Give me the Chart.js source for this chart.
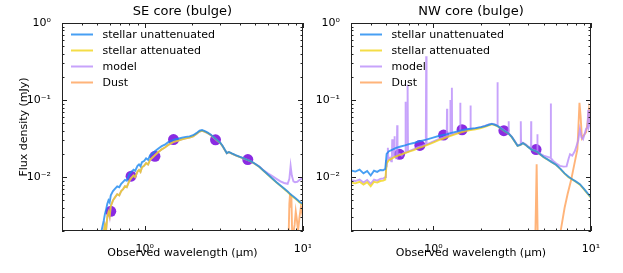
<!DOCTYPE html>
<html>
<head>
<meta charset="utf-8">
<script src="https://cdn.jsdelivr.net/npm/chart.js@4"></script>
<style>
  body { margin: 0; background: #fff; }
  .panel { position: absolute; top: 0; }
</style>
</head>
<body>
<div class="panel" style="left:0"><canvas id="se" width="311" height="273"></canvas></div>
<div class="panel" style="left:311px"><canvas id="nw" width="312" height="273"></canvas></div>
<script>
// --- data (wavelength in um, flux density in mJy) ---
const obsWl = [0.61, 0.82, 1.16, 1.52, 2.80, 4.48];
const seObs = [0.0036, 0.0103, 0.0186, 0.0307, 0.0305, 0.0169];
const nwObs = [0.0198, 0.0258, 0.0351, 0.0412, 0.0400, 0.0228];

const seWl = [0.53, 0.55, 0.56, 0.57, 0.58, 0.59, 0.60, 0.61, 0.63, 0.65, 0.67, 0.69, 0.71, 0.73, 0.75, 0.77,
  0.80, 0.82, 0.85, 0.87, 0.90, 0.92, 0.94, 0.96, 0.99, 1.02, 1.05, 1.08, 1.12, 1.17, 1.22, 1.28, 1.34, 1.40,
  1.47, 1.55, 1.63, 1.72, 1.82, 1.92, 2.02, 2.12, 2.22, 2.30, 2.40, 2.50, 2.62, 2.75, 2.88, 3.00, 3.10, 3.20,
  3.30, 3.40, 3.55, 3.75, 4.00, 4.20, 4.45, 4.70, 5.00, 5.30, 5.60, 6.00, 6.40, 6.80, 7.20, 7.60, 8.00, 8.20,
  8.35, 8.50, 8.70, 8.90, 9.20, 9.50, 10.0];
const seStellar = [0.0019, 0.0027, 0.0033, 0.0038, 0.0045, 0.0050, 0.0047, 0.0058, 0.0066, 0.0071, 0.0076,
  0.0074, 0.0082, 0.0087, 0.0092, 0.0090, 0.0110, 0.0116, 0.0125, 0.0121, 0.0140, 0.0146, 0.0138, 0.0156,
  0.0162, 0.0175, 0.0168, 0.0192, 0.0203, 0.0220, 0.0236, 0.0252, 0.0264, 0.0282, 0.0296, 0.0308, 0.0315,
  0.0326, 0.0333, 0.0338, 0.0350, 0.0372, 0.0400, 0.0408, 0.0394, 0.0378, 0.0354, 0.0325, 0.0300, 0.0280,
  0.0256, 0.0228, 0.0205, 0.0212, 0.0203, 0.0193, 0.0183, 0.0176, 0.0168, 0.0160, 0.0148, 0.0136, 0.0123,
  0.0108, 0.0096, 0.0086, 0.0078, 0.0071, 0.0065, 0.0062, 0.0060, 0.0058, 0.0056, 0.0054, 0.0051, 0.0048, 0.0045];
const seAttenuated = [0.0015, 0.0019, 0.0024, 0.0021, 0.0031, 0.0035, 0.0031, 0.0042, 0.0050, 0.0055, 0.0060,
  0.0058, 0.0066, 0.0070, 0.0076, 0.0074, 0.0090, 0.0097, 0.0105, 0.0100, 0.0118, 0.0124, 0.0117, 0.0134,
  0.0140, 0.0152, 0.0146, 0.0168, 0.0180, 0.0196, 0.0212, 0.0229, 0.0242, 0.0260, 0.0276, 0.0290, 0.0298,
  0.0310, 0.0318, 0.0325, 0.0338, 0.0362, 0.0391, 0.0400, 0.0387, 0.0372, 0.0349, 0.0321, 0.0296, 0.0277,
  0.0253, 0.0226, 0.0204, 0.0211, 0.0202, 0.0192, 0.0182, 0.0175, 0.0167, 0.0159, 0.0147, 0.0135, 0.0122,
  0.0107, 0.0095, 0.0085, 0.0077, 0.0070, 0.0064, 0.0061, 0.0059, 0.0057, 0.0055, 0.0053, 0.0050, 0.0047, 0.0044];
const seModel = [0.0015, 0.0019, 0.0024, 0.0020, 0.0031, 0.0035, 0.0030, 0.0042, 0.0050, 0.0055, 0.0060,
  0.0058, 0.0066, 0.0070, 0.0076, 0.0074, 0.0090, 0.0097, 0.0105, 0.0100, 0.0118, 0.0124, 0.0117, 0.0134,
  0.0140, 0.0152, 0.0146, 0.0168, 0.0180, 0.0196, 0.0212, 0.0229, 0.0242, 0.0260, 0.0276, 0.0290, 0.0298,
  0.0310, 0.0318, 0.0325, 0.0338, 0.0362, 0.0391, 0.0400, 0.0387, 0.0372, 0.0349, 0.0321, 0.0296, 0.0277,
  0.0253, 0.0226, 0.0204, 0.0211, 0.0202, 0.0192, 0.0182, 0.0175, 0.0168, 0.0160, 0.0148, 0.0137, 0.0124,
  0.0112, 0.0103, 0.0095, 0.0088, 0.0084, 0.0082, 0.0095, 0.0140, 0.0105, 0.0088, 0.0086, 0.0087, 0.0092, 0.0098];
const seDustWl = [7.5, 8.1, 8.2, 8.28, 8.36, 8.45, 8.55, 8.7, 8.85, 9.0, 9.15, 9.3, 9.5, 9.7, 9.85, 10.0];
const seDust = [0.0004, 0.0015, 0.0045, 0.0060, 0.0040, 0.0055, 0.0016, 0.0019, 0.0024, 0.0036, 0.0028,
  0.0020, 0.0030, 0.0041, 0.0035, 0.0044];

const nwWl = [0.30, 0.32, 0.34, 0.36, 0.38, 0.40, 0.42, 0.44, 0.46, 0.48, 0.495, 0.505, 0.52, 0.55, 0.58, 0.62,
  0.66, 0.70, 0.75, 0.80, 0.85, 0.90, 0.96, 1.02, 1.08, 1.15, 1.22, 1.30, 1.40, 1.50, 1.60, 1.72, 1.85, 2.00,
  2.12, 2.25, 2.35, 2.45, 2.55, 2.70, 2.85, 3.00, 3.15, 3.30, 3.42, 3.55, 3.70, 3.85, 4.00, 4.20, 4.40, 4.60,
  4.80, 5.00, 5.30, 5.60, 6.00, 6.40, 6.80, 7.20, 7.60, 8.00, 8.50, 9.00, 9.50, 10.0];
const nwStellar = [0.0122, 0.0118, 0.0125, 0.0112, 0.0120, 0.0105, 0.0121, 0.0117, 0.0124, 0.0123, 0.0128,
  0.0200, 0.0215, 0.0228, 0.0240, 0.0250, 0.0258, 0.0268, 0.0277, 0.0290, 0.0298, 0.0306, 0.0318, 0.0330,
  0.0342, 0.0352, 0.0362, 0.0375, 0.0390, 0.0405, 0.0415, 0.0424, 0.0432, 0.0445, 0.0458, 0.0478, 0.0490,
  0.0478, 0.0462, 0.0425, 0.0392, 0.0368, 0.0330, 0.0285, 0.0255, 0.0262, 0.0276, 0.0262, 0.0245, 0.0228,
  0.0220, 0.0210, 0.0195, 0.0182, 0.0170, 0.0158, 0.0145, 0.0128, 0.0112, 0.0101, 0.0094, 0.0088, 0.0081,
  0.0071, 0.0062, 0.0055];
const nwAttenuated = [0.0085, 0.0083, 0.0087, 0.0080, 0.0086, 0.0076, 0.0087, 0.0085, 0.0089, 0.0090, 0.0093,
  0.0150, 0.0165, 0.0176, 0.0186, 0.0196, 0.0205, 0.0214, 0.0224, 0.0238, 0.0247, 0.0258, 0.0272, 0.0287,
  0.0302, 0.0315, 0.0330, 0.0345, 0.0364, 0.0382, 0.0395, 0.0407, 0.0418, 0.0434, 0.0449, 0.0470, 0.0483,
  0.0473, 0.0457, 0.0421, 0.0389, 0.0366, 0.0328, 0.0284, 0.0254, 0.0261, 0.0275, 0.0261, 0.0244, 0.0227,
  0.0219, 0.0209, 0.0194, 0.0181, 0.0169, 0.0157, 0.0144, 0.0127, 0.0111, 0.0100, 0.0093, 0.0087, 0.0080,
  0.0070, 0.0061, 0.0054];
const nwModelWl = [0.30, 0.32, 0.34, 0.36, 0.38, 0.40, 0.42, 0.44, 0.46, 0.48, 0.495, 0.50, 0.505, 0.51, 0.514,
  0.518, 0.53, 0.54, 0.545, 0.548, 0.552, 0.563, 0.566, 0.569, 0.58, 0.586, 0.589, 0.592, 0.61, 0.63, 0.645,
  0.662, 0.665, 0.668, 0.682, 0.686, 0.690, 0.72, 0.76, 0.80, 0.85, 0.895, 0.900, 0.905, 0.96, 1.02, 1.08,
  1.15, 1.215, 1.22, 1.225, 1.275, 1.28, 1.285, 1.305, 1.31, 1.315, 1.40, 1.475, 1.48, 1.485, 1.60, 1.715,
  1.72, 1.725, 1.85, 2.00, 2.12, 2.25, 2.35, 2.45, 2.54, 2.55, 2.56, 2.70, 2.85, 2.99, 3.00, 3.01, 3.15, 3.30,
  3.42, 3.55, 3.58, 3.59, 3.60, 3.70, 3.85, 4.00, 4.16, 4.17, 4.18, 4.30, 4.40, 4.56, 4.57, 4.58, 4.80, 5.00,
  5.30, 5.55, 5.56, 5.57, 5.76, 6.00, 6.35, 6.70, 7.00, 7.20, 7.36, 7.60, 7.90, 8.10, 8.30, 8.50, 8.70, 8.90,
  9.10, 9.30, 9.50, 9.60, 9.70, 9.85, 10.0];
const nwModel = [0.0091, 0.0089, 0.0093, 0.0085, 0.0092, 0.0082, 0.0093, 0.0090, 0.0095, 0.0096, 0.0100,
  0.0165, 0.0135, 0.0168, 0.0240, 0.0172, 0.0178, 0.0160, 0.0182, 0.0310, 0.0184, 0.0187, 0.0340, 0.0189,
  0.0175, 0.0193, 0.0470, 0.0195, 0.0200, 0.0190, 0.0205, 0.0208, 0.0950, 0.0210, 0.0212, 0.1580, 0.0214,
  0.0222, 0.0232, 0.0245, 0.0255, 0.0266, 0.3700, 0.0267, 0.0280, 0.0296, 0.0312, 0.0326, 0.0340, 0.0770,
  0.0341, 0.0352, 0.1000, 0.0353, 0.0357, 0.1450, 0.0358, 0.0376, 0.0392, 0.0920, 0.0393, 0.0407, 0.0418,
  0.0850, 0.0419, 0.0430, 0.0446, 0.0461, 0.0482, 0.0494, 0.0484, 0.0466, 0.1700, 0.0464, 0.0430, 0.0396,
  0.0372, 0.0530, 0.0370, 0.0333, 0.0289, 0.0258, 0.0265, 0.0278, 0.0530, 0.0279, 0.0280, 0.0266, 0.0249,
  0.0236, 0.0530, 0.0235, 0.0225, 0.0222, 0.0214, 0.0360, 0.0213, 0.0200, 0.0190, 0.0183, 0.0178, 0.0900,
  0.0176, 0.0162, 0.0151, 0.0140, 0.0137, 0.0138, 0.0172, 0.0198, 0.0190, 0.0218, 0.0255, 0.0300, 0.0420,
  0.0330, 0.0310, 0.0360, 0.0420, 0.0440, 0.0750, 0.0460, 0.0520, 0.0680];
const nwDustWl = [4.40, 4.47, 4.52, 4.56, 4.62, 5.0, 5.6, 6.3, 6.8, 7.1, 7.5, 7.8, 8.2, 8.3, 8.45, 8.6, 8.75,
  9.0, 9.3, 9.5, 9.7, 9.85, 10.0];
const nwDust = [0.0008, 0.0040, 0.0147, 0.0040, 0.0008, 0.0004, 0.0010, 0.0016, 0.0040, 0.0060, 0.0094,
  0.0140, 0.0230, 0.0400, 0.0920, 0.0600, 0.0320, 0.0350, 0.0380, 0.0500, 0.0750, 0.0600, 0.0800];

const decadeLabels = { 0.01: '10⁻²', 0.1: '10⁻¹', 1: '10⁰', 10: '10¹' };

const FONT = 'DejaVu Sans';
const colors = {
  stellar: 'rgba(25,135,240,0.8)',
  attenuated: 'rgba(240,210,10,0.75)',
  model: 'rgba(185,140,250,0.8)',
  dust: 'rgba(255,140,50,0.65)',
  obs: '#8a2be2'
};

function pts(wl, f) {
  return wl.map((w, i) => ({ x: w, y: f[i] }));
}

function isDecade(v) {
  const l = Math.log10(v);
  return Math.abs(l - Math.round(l)) < 1e-6;
}

// 1..9 x 10^n inside [min, max]
function logTicks(scale) {
  const out = [];
  for (let e = Math.floor(Math.log10(scale.min)); e <= Math.ceil(Math.log10(scale.max)); e++) {
    for (let s = 1; s < 10; s++) {
      const v = +(s * Math.pow(10, e)).toPrecision(6);
      if (v >= scale.min - 1e-9 && v <= scale.max + 1e-9) out.push({ value: v });
    }
  }
  scale.ticks = out;
}

const frame = {
  id: 'frame',
  afterDraw(chart, args, o) {
    const { ctx, chartArea: a, scales: { x, y } } = chart;
    ctx.save();
    ctx.strokeStyle = '#222';
    ctx.lineWidth = 1;
    ctx.beginPath();
    x.ticks.forEach(t => {
      const px = Math.round(x.getPixelForValue(t.value)) + 0.5;
      const len = isDecade(t.value) ? 5 : 2.5;
      ctx.moveTo(px, a.bottom); ctx.lineTo(px, a.bottom - len);
      ctx.moveTo(px, a.top); ctx.lineTo(px, a.top + len);
    });
    y.ticks.forEach(t => {
      const py = Math.round(y.getPixelForValue(t.value)) + 0.5;
      const len = isDecade(t.value) ? 5 : 2.5;
      ctx.moveTo(a.left, py); ctx.lineTo(a.left + len, py);
      ctx.moveTo(a.right, py); ctx.lineTo(a.right - len, py);
    });
    ctx.stroke();
    ctx.strokeRect(Math.round(a.left) + 0.5, Math.round(a.top) + 0.5, Math.round(a.width) - 1, Math.round(a.height) - 1);

    ctx.fillStyle = '#000';
    ctx.textAlign = 'center';
    ctx.textBaseline = 'middle';
    ctx.font = '13px "' + FONT + '"';
    ctx.fillText(o.title, (a.left + a.right) / 2, 12);
    ctx.font = '11px "' + FONT + '"';
    ctx.fillText('Observed wavelength (μm)', (a.left + a.right) / 2, 253);
    if (o.yTitle) {
      ctx.save();
      ctx.translate(24, (a.top + a.bottom) / 2);
      ctx.rotate(-Math.PI / 2);
      ctx.fillText(o.yTitle, 0, 0);
      ctx.restore();
    }

    // legend inside upper left
    ctx.textAlign = 'left';
    chart.data.datasets.filter(d => d.label).forEach((d, i) => {
      const ly = a.top + 11.5 + i * 16;
      ctx.strokeStyle = d.borderColor;
      ctx.lineWidth = 2;
      ctx.beginPath();
      ctx.moveTo(a.left + 9, ly);
      ctx.lineTo(a.left + 31, ly);
      ctx.stroke();
      ctx.fillText(d.label, a.left + 40.5, ly + 1);
    });
    ctx.restore();
  }
};

function makePanel(id, title, yTitle, yWidth, padRight, sets) {
  const line = (label, data, color) => ({
    label, data, borderColor: color, backgroundColor: color,
    borderWidth: 1.9, pointRadius: 0, tension: 0
  });
  new Chart(document.getElementById(id), {
    type: 'line',
    data: {
      datasets: [
        line('stellar unattenuated', sets.stellar, colors.stellar),
        line('stellar attenuated', sets.attenuated, colors.attenuated),
        line('model', sets.model, colors.model),
        line('Dust', sets.dust, colors.dust),
        {
          label: '', data: sets.obs, showLine: false,
          pointRadius: 5.5, pointBackgroundColor: colors.obs, pointBorderWidth: 0,
          borderColor: colors.obs
        }
      ]
    },
    options: {
      responsive: false,
      animation: false,
      events: [],
      layout: { padding: { top: 23, right: padRight, left: 0, bottom: 0 } },
      plugins: {
        legend: { display: false },
        tooltip: { enabled: false },
        frame: { title, yTitle }
      },
      scales: {
        x: {
          type: 'logarithmic', min: 0.3, max: 10,
          grid: { display: false }, border: { display: false },
          afterBuildTicks: logTicks,
          afterFit: s => { s.height = 42; s.paddingLeft = 0; s.paddingRight = 0; },
          ticks: {
            autoSkip: false, maxRotation: 0, padding: 4, color: '#000',
            font: { family: FONT, size: 11 },
            callback: v => decadeLabels[v] || ''
          }
        },
        y: {
          type: 'logarithmic', min: 0.002, max: 1,
          grid: { display: false }, border: { display: false },
          afterBuildTicks: logTicks,
          afterFit: s => { s.width = yWidth; s.paddingTop = 0; s.paddingBottom = 0; },
          ticks: {
            autoSkip: false, padding: 3, color: '#000',
            font: { family: FONT, size: 11 },
            callback: v => decadeLabels[v] || ''
          }
        }
      }
    },
    plugins: [frame]
  });
}

makePanel('se', 'SE core (bulge)', 'Flux density (mJy)', 62, 8, {
  stellar: pts(seWl, seStellar),
  attenuated: pts(seWl, seAttenuated),
  model: pts(seWl, seModel),
  dust: pts(seDustWl, seDust),
  obs: pts(obsWl, seObs)
});

makePanel('nw', 'NW core (bulge)', null, 40, 32, {
  stellar: pts(nwWl, nwStellar),
  attenuated: pts(nwWl, nwAttenuated),
  model: pts(nwModelWl, nwModel),
  dust: pts(nwDustWl, nwDust),
  obs: pts(obsWl, nwObs)
});
</script>
</body>
</html>
